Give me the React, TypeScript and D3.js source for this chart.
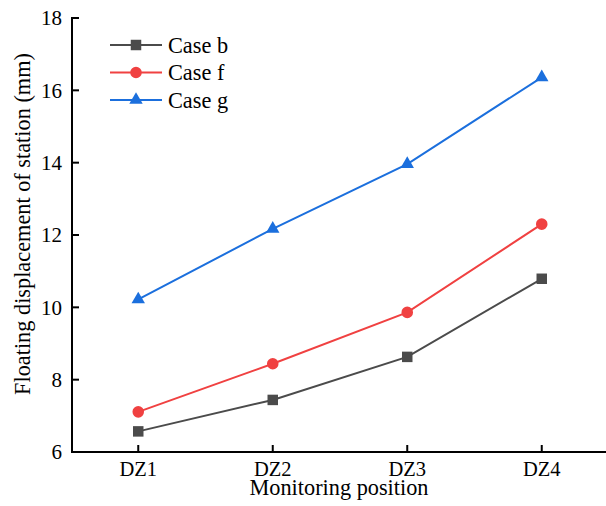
import * as d3 from 'd3';

const positions = ['DZ1', 'DZ2', 'DZ3', 'DZ4'];
const caseB = [6.57, 7.44, 8.63, 10.79];
const caseF = [7.11, 8.44, 9.86, 12.3];
const caseG = [10.22, 12.17, 13.96, 16.36];
const yTicks = [6, 8, 10, 12, 14, 16, 18];

const series = [
	{ name: 'Case b', values: caseB, color: '#4b4b4b', symbol: d3.symbolSquare, size: 110 },
	{ name: 'Case f', values: caseF, color: '#f04141', symbol: d3.symbolCircle, size: 105 },
	{ name: 'Case g', values: caseG, color: '#1b6fdd', symbol: d3.symbolTriangle, size: 78 },
];

const width = 606;
const height = 506;
const margin = { top: 18, right: 0, bottom: 54, left: 72 };
const font = 'Liberation Serif';

export default function App() {
	const x = d3.scalePoint().domain(positions).range([71, 609]).padding(0.5);
	const y = d3.scaleLinear().domain([6, 18]).range([height - margin.bottom, margin.top]);
	const y0 = height - margin.bottom;
	const line = d3.line<number>().x((_, i) => x(positions[i])!).y(d => y(d));
	const tick = 7;

	return (
		<svg width={width} height={height} style={{ position: 'absolute', left: 0, top: 0, background: '#fff' }}>
			{/* x axis */}
			<line x1={margin.left} x2={width} y1={y0} y2={y0} stroke="#000" strokeWidth={2} />
			{positions.map(p => (
				<g key={p} transform={`translate(${x(p)},${y0})`}>
					<line y2={-tick} stroke="#000" strokeWidth={2} />
					<text y={24} textAnchor="middle" fontSize={20.5} style={{ fontFamily: font }}>{p}</text>
				</g>
			))}
			{/* y axis */}
			<line x1={margin.left} x2={margin.left} y1={margin.top - 1} y2={y0 + 1} stroke="#000" strokeWidth={2} />
			{yTicks.map(t => (
				<g key={t} transform={`translate(${margin.left},${y(t)})`}>
					<line x2={tick} stroke="#000" strokeWidth={2} />
					<text x={-10} dy="0.35em" textAnchor="end" fontSize={21} style={{ fontFamily: font }}>{t}</text>
				</g>
			))}
			{/* titles */}
			<text x={(margin.left + width) / 2} y={495} textAnchor="middle" fontSize={22.3} style={{ fontFamily: font }}>
				Monitoring position
			</text>
			<text transform={`translate(30,224) rotate(-90)`} textAnchor="middle" fontSize={22.3} style={{ fontFamily: font }}>
				Floating displacement of station (mm)
			</text>
			{/* series */}
			{series.map(s => (
				<g key={s.name}>
					<path d={line(s.values)!} fill="none" stroke={s.color} strokeWidth={2} />
					{s.values.map((v, i) => (
						<path key={i} d={d3.symbol().type(s.symbol).size(s.size)()!} transform={`translate(${x(positions[i])},${y(v)})`} fill={s.color} />
					))}
				</g>
			))}
			{/* legend */}
			<g transform="translate(110,45)">
				{series.map((s, i) => (
					<g key={s.name} transform={`translate(0,${i * 27.5})`}>
						<line x1={0} x2={52} stroke={s.color} strokeWidth={2} />
						<path d={d3.symbol().type(s.symbol).size(s.size)()!} transform="translate(26,0)" fill={s.color} />
						<text x={58} dy="0.34em" fontSize={22.3} style={{ fontFamily: font }}>{s.name}</text>
					</g>
				))}
			</g>
		</svg>
	);
}
